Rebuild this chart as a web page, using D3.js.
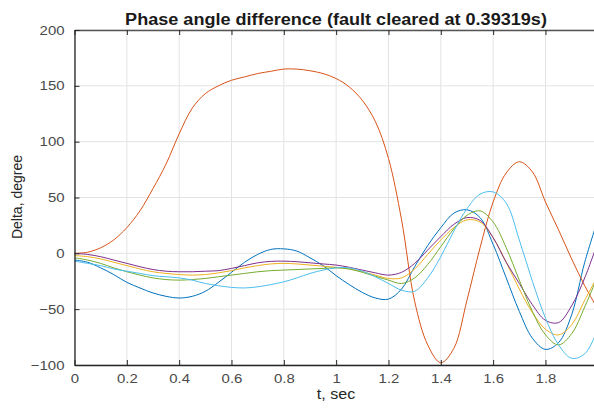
<!DOCTYPE html>
<html><head><meta charset="utf-8">
<script src="https://cdn.jsdelivr.net/npm/d3@7"></script>
<style>html,body{margin:0;padding:0;background:#fff;overflow:hidden}</style>
</head><body>
<script>
const titleText = "Phase angle difference (fault cleared at 0.39319s)";
const xLabel = "t, sec";
const yLabel = "Delta, degree";
const xTicks = [0,0.2,0.4,0.6,0.8,1,1.2,1.4,1.6,1.8,2];
const yTicks = [-100,-50,0,50,100,150,200];
const t = [0,0.05,0.1,0.15,0.2,0.25,0.3,0.35,0.4,0.45,0.5,0.55,0.6,0.65,0.7,0.75,0.8,0.85,0.9,0.95,1.0,1.05,1.1,1.15,1.2,1.25,1.3,1.35,1.4,1.45,1.5,1.55,1.6,1.65,1.7,1.75,1.8,1.85,1.9,1.95,2.0];
const blue   = [-6,-8,-13,-19,-26,-31,-35.5,-38.5,-40,-38.5,-34,-26,-17,-8,-1,3.5,4,2,-4,-11,-20,-28,-35,-40,-41,-32,-12,7,23,36,39,32,8,-22,-52,-76,-86,-80,-55,-8,30];
const orange = [0,1,5,12,23,38,58,80,107,130,143,150,155,158,161,163,165,165,163.5,161,156.5,149,137,118,85,30,-43,-82,-98,-85,-42,5,46,72,82,73,46,21,-5,-29,-50];
const yellow = [-2,-3,-5,-8,-11,-14,-16.5,-18,-19,-19.5,-19,-17.5,-15.5,-13,-11,-9.5,-9,-9.5,-10.5,-11.5,-12.5,-14,-16.5,-19.5,-22.5,-22,-14,-1,12,23,30,28,14,-8,-32,-53,-68,-73,-64,-42,-20];
const purple = [0,-1,-3,-6,-9,-12,-14.5,-16,-16.5,-16.5,-16,-15.5,-13.5,-11,-8.5,-7.2,-7,-7.5,-8.5,-9.5,-10.5,-12.5,-15,-17.5,-19.5,-17,-9,3,15,26,32,29.5,14,-8,-27,-46,-60,-62,-47,-22,10];
const green  = [-4,-6,-9,-13,-16.5,-19.5,-22,-23.5,-24,-23.5,-22.5,-21,-19.5,-18,-16.5,-15.5,-15,-14.5,-14,-13.5,-13,-14,-17,-20.5,-24,-27,-22,-10,6,22,34,38,28,5,-24,-52,-73,-82,-72,-48,-20];
const cyan   = [-7,-9,-11,-14,-16,-18,-20,-21,-22,-24,-27,-29,-30.5,-31,-30,-28,-25.5,-22,-18,-15,-13,-13,-16,-21,-27,-33,-34,-22,-3,20,40,53,55,45,12,-25,-58,-82,-94,-90,-68];
const seriesNames = ["blue","orange","yellow","purple","green","cyan"];
const seriesValues = [blue, orange, yellow, purple, green, cyan];
const seriesColors = ["#0072BD","#D95319","#EDB120","#7E2F8E","#77AC30","#4DBEEE"];

const W = 594, H = 410;
const L = 74.5, R = 597.8, T = 30, B = 365;
const svg = d3.select("body").append("svg").attr("width", W).attr("height", H)
  .style("font-family", "'Liberation Sans', Arial, sans-serif");
svg.append("rect").attr("width", W).attr("height", H).attr("fill", "#fff");

const x = d3.scaleLinear().domain([0, 2]).range([L, R]);
const y = d3.scaleLinear().domain([-100, 200]).range([B, T]);
const SX = 1.15;

// grid
const grid = svg.append("g");
grid.selectAll("line.gx").data(xTicks).join("line")
  .attr("x1", d => x(d)).attr("x2", d => x(d)).attr("y1", T).attr("y2", B)
  .attr("stroke", "#e3e3e3").attr("stroke-width", 1);
grid.selectAll("line.gy").data(yTicks).join("line")
  .attr("x1", L).attr("x2", R).attr("y1", d => y(d)).attr("y2", d => y(d))
  .attr("stroke", "#e3e3e3").attr("stroke-width", 1);

// lines
svg.append("clipPath").attr("id", "clip").append("rect")
  .attr("x", L).attr("y", T).attr("width", R - L).attr("height", B - T);
const line = d3.line().x((d, i) => x(t[i])).y(d => y(d)).curve(d3.curveCatmullRom.alpha(0.5));
const lg = svg.append("g").attr("clip-path", "url(#clip)");
seriesValues.forEach((vals, k) => {
  lg.append("path").datum(vals).attr("d", line)
    .attr("fill", "none").attr("stroke", seriesColors[k]).attr("stroke-width", 1);
});

// axes
const axB = d3.axisBottom(x).tickValues(xTicks).tickSizeInner(-5).tickSizeOuter(0).tickPadding(10)
  .tickFormat(d3.format("~g"));
const gB = svg.append("g").attr("transform", `translate(0,${B})`).call(axB);
const axTop = d3.axisTop(x).tickValues(xTicks).tickSizeInner(-5).tickSizeOuter(0).tickFormat("");
const gT = svg.append("g").attr("transform", `translate(0,${T})`).call(axTop);
const axL = d3.axisLeft(y).tickValues(yTicks).tickSizeInner(-5).tickSizeOuter(0).tickPadding(10);
const gL = svg.append("g").attr("transform", `translate(${L},0)`).call(axL);
[gB, gT, gL].forEach(g => {
  g.select(".domain").attr("stroke", "#262626").attr("stroke-width", 1.3);
  g.selectAll(".tick line").attr("stroke", "#262626");
  g.selectAll("text").attr("fill", "#4a4a4a").attr("font-size", 13)
    .attr("font-family", "'Liberation Sans', Arial, sans-serif");
});
gT.select(".domain").attr("stroke", "#555");
// horizontal stretch of tick labels
gB.selectAll(".tick text").attr("transform", `scale(${SX},1)`).attr("x", 0).attr("dy", "0.71em").attr("y", 9);
gL.selectAll(".tick text").each(function() {
  d3.select(this).attr("x", 0).attr("transform", `translate(-10,0) scale(${SX},1)`);
});

// title
svg.append("text").attr("x", 0).attr("y", 0)
  .attr("transform", `translate(336,25) scale(1.13,1)`)
  .attr("text-anchor", "middle").attr("font-weight", "bold").attr("font-size", 16)
  .attr("fill", "#1a1a1a").text(titleText);
// x label
svg.append("text").attr("transform", `translate(336,399) scale(${SX},1)`)
  .attr("text-anchor", "middle").attr("font-size", 14).attr("fill", "#262626").text(xLabel);
// y label
svg.append("text").attr("transform", `translate(22,197) rotate(-90)`)
  .attr("text-anchor", "middle").attr("font-size", 14).attr("fill", "#262626").text(yLabel);
</script>
</body></html>
